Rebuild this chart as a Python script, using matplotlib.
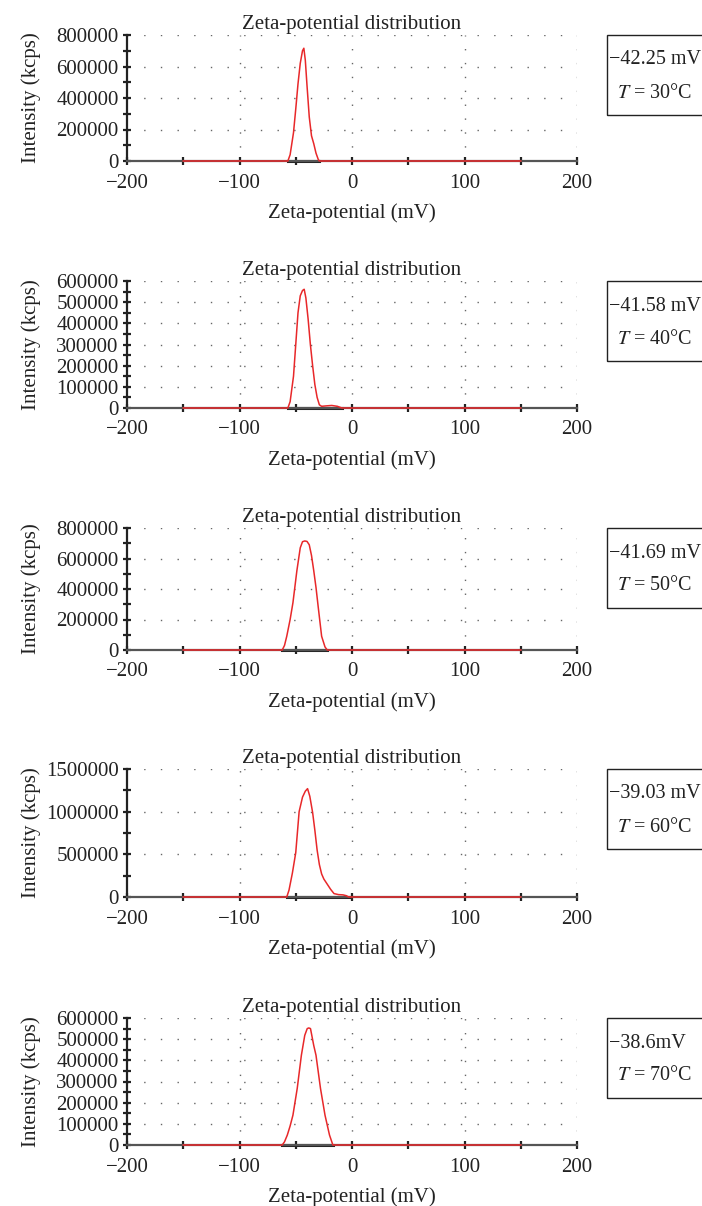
import matplotlib
matplotlib.use("Agg")
import matplotlib.pyplot as plt
from matplotlib.patches import Rectangle
from matplotlib.ticker import MultipleLocator, FuncFormatter

plt.rcParams['font.family'] = ['Liberation Serif', 'DejaVu Serif']
plt.rcParams['mathtext.fontset'] = 'stix'

title = "Zeta-potential distribution"
xlabel = "Zeta-potential (mV)"
ylabel = "Intensity (kcps)"

x_ticks = [-200, -100, 0, 100, 200]

# Panel 1: T = 30 C
x1 = [-150, -57, -55, -52, -50, -48, -46, -44, -42.8, -41.5, -40, -38, -36, -34, -32, -30, -29, 150]
y1 = [0, 0, 40000, 180000, 330000, 490000, 620000, 700000, 716000, 640000, 480000, 280000, 160000, 110000, 50000, 10000, 0, 0]
# Panel 2: T = 40 C
x2 = [-150, -57, -55, -52, -50, -48, -46, -44, -42.5, -41, -39, -37, -35, -33, -31, -29, -27, -23, -18, -13, -9, 150]
y2 = [0, 0, 30000, 150000, 300000, 450000, 530000, 555000, 561000, 520000, 420000, 300000, 200000, 110000, 50000, 15000, 8000, 10000, 12000, 8000, 0, 0]
# Panel 3: T = 50 C
x3 = [-150, -62, -60, -58, -55, -52.5, -49, -46, -44, -42, -40, -38, -36, -34, -32, -30, -27, -24, -22, 150]
y3 = [0, 0, 30000, 90000, 200000, 310000, 520000, 670000, 710000, 715000, 712000, 690000, 620000, 520000, 410000, 280000, 90000, 20000, 0, 0]
# Panel 4: T = 60 C
x4 = [-150, -58, -56, -53, -50, -47, -44, -41.5, -39.5, -37.5, -35, -33, -31, -29, -27, -25, -22, -19, -16, -12, -8, -5, -3, 150]
y4 = [0, 0, 80000, 280000, 520000, 1000000, 1170000, 1240000, 1270000, 1180000, 990000, 780000, 550000, 380000, 270000, 210000, 150000, 90000, 40000, 28000, 25000, 15000, 0, 0]
# Panel 5: T = 70 C
x5 = [-150, -62, -60, -57.5, -55, -52.5, -48.7, -45, -42, -39.8, -38.4, -36.9, -34, -32, -28, -24, -20, -17, 150]
y5 = [0, 0, 15000, 47000, 90000, 141000, 267000, 424000, 518000, 550000, 553000, 550000, 470000, 424000, 267000, 141000, 47000, 0, 0]

xs = [x1, x2, x3, x4, x5]
ys = [y1, y2, y3, y4, y5]
y_max = [800000, 600000, 800000, 1500000, 600000]
y_major = [200000, 100000, 200000, 500000, 100000]
y_minor = [100000, 50000, 100000, 250000, 50000]
zeta_labels = ["\u221242.25 mV", "\u221241.58 mV", "\u221241.69 mV", "\u221239.03 mV", "\u221238.6mV"]
temps = ["30", "40", "50", "60", "70"]

W, H = 702, 1206
fig = plt.figure(figsize=(W / 100, H / 100), dpi=100)

# panel pixel extents (top, bottom)
panels_px = [(35, 161), (281, 408), (528, 650), (769, 897), (1018, 1145)]
left_px, right_px = 127, 577
fs = 15
red = '#e8282a'

fmt = FuncFormatter(lambda v, p: ("%d" % v).replace("-", "\u2212"))

for i, (top, bot) in enumerate(panels_px):
    ax = fig.add_axes([left_px / W, 1 - bot / H, (right_px - left_px) / W, (bot - top) / H])
    ax.set_xlim(-200, 200)
    ax.set_ylim(0, y_max[i])
    for s in ['top', 'right']:
        ax.spines[s].set_visible(False)
    ax.spines['left'].set_color('#222222')
    ax.spines['left'].set_linewidth(1.6)
    ax.spines['bottom'].set_color('#555555')
    ax.spines['bottom'].set_linewidth(1.6)
    ax.set_xticks(x_ticks)
    ax.xaxis.set_minor_locator(MultipleLocator(50))
    ax.yaxis.set_major_locator(MultipleLocator(y_major[i]))
    ax.yaxis.set_minor_locator(MultipleLocator(y_minor[i]))
    ax.yaxis.set_major_formatter(fmt)
    ax.xaxis.set_major_formatter(fmt)
    ax.tick_params(axis='both', which='both', direction='inout', length=6, width=1.6,
                   color='#222222', labelsize=fs, labelcolor='#222222', pad=3)
    ax.tick_params(axis='x', pad=6)
    # dotted grid
    for gx in [-100, 0, 100, 200]:
        ax.axvline(gx, color='#666666', lw=1.0, ls=(0, (1, 9)), zorder=0)
    for gy in range(y_major[i], y_max[i] + 1, y_major[i]):
        ax.axhline(gy, color='#666666', lw=1.0, ls=(0, (1, 11)), zorder=0)
    # black baseline under the peak
    xi = xs[i]
    ax.plot([xi[1], xi[-2]], [0, 0], color='#222222', lw=2.2, zorder=2, clip_on=False)
    ax.plot(xi, ys[i], color=red, lw=1.1, zorder=3, clip_on=False)
    ax.set_title(title, fontsize=fs, pad=4, color='#222222')
    ax.set_xlabel(xlabel, fontsize=fs, labelpad=8, color='#222222')
    ax.set_ylabel(ylabel, fontsize=fs, color='#222222')
    ax.yaxis.set_label_coords(-0.19, 0.5)

    # annotation box
    bx0 = 607 / W
    bh = 80
    rect = Rectangle((bx0, 1 - (top + bh) / H), 0.2, bh / H, transform=fig.transFigure,
                     fill=False, edgecolor='#222222', lw=1.0, clip_on=False)
    fig.add_artist(rect)
    fig.text(609 / W, 1 - (top + 25) / H, zeta_labels[i], fontsize=14.5, va='center', ha='left',
             color='#222222')
    fig.text(617 / W, 1 - (top + 58) / H, "$T$ = " + temps[i] + "\u00b0C", fontsize=14.5,
             va='center', ha='left', color='#222222')

fig.savefig("out.png", dpi=100)
